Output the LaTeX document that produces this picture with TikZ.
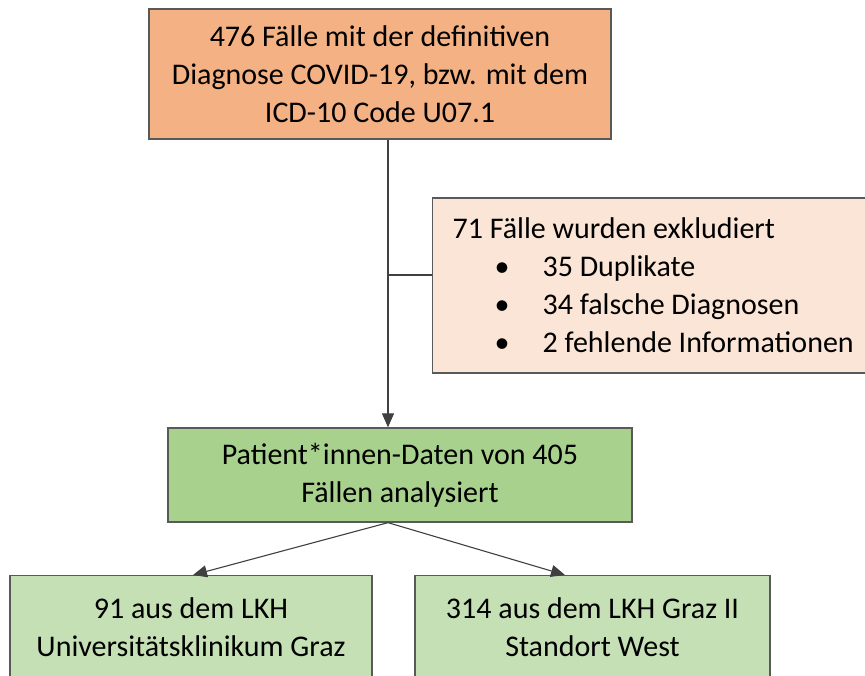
\documentclass[tikz,border=0pt]{standalone}
\usepackage{fontspec}
\setmainfont{Carlito}
\usepackage{xcolor}
\usetikzlibrary{arrows.meta,positioning,calc}
\definecolor{cLine}{HTML}{404040}
\definecolor{cEdge}{HTML}{595959}
\definecolor{cStart}{HTML}{F4B183}
\definecolor{cExcl}{HTML}{FBE5D6}
\definecolor{cMain}{HTML}{A9D18E}
\definecolor{cSite}{HTML}{C5E0B4}
\tikzset{
  box/.style={draw=cEdge, line width=1.3pt, inner sep=4pt, align=center,
              font=\fontsize{30}{38}\selectfont},
  startbox/.style={box, fill=cStart, minimum width=462pt, minimum height=130pt},
  exclbox/.style={box, fill=cExcl, align=left, minimum height=175pt, inner xsep=20pt},
  mainbox/.style={box, fill=cMain, minimum width=464pt, minimum height=94pt},
  sitebox/.style={box, fill=cSite, minimum height=104pt},
  conn/.style={cLine, line width=1.1pt},
  arr/.style={conn, -{Triangle[length=14pt, width=12pt]}}
}
\newcommand{\blt}{\hspace*{42pt}\textbullet\hspace*{33pt}}
\begin{document}
\begin{tikzpicture}[x=1pt, y=-1pt]
\useasboundingbox (0,0) rectangle (865,675);
% boxes
\node[startbox] (start) at (380,74) {476 Fälle mit der definitiven\\Diagnose COVID-19, bzw. mit dem\\ICD-10 Code U07.1};
\node[exclbox, anchor=west] (excl) at (432,285.5) {71 Fälle wurden exkludiert\\
  \blt 35 Duplikate\\
  \blt 34 falsche Diagnosen\\
  \blt 2 fehlende Informationen};
\node[mainbox] (main) at (400,475) {Patient*innen-Daten von 405\\Fällen analysiert};
\node[sitebox, minimum width=362pt, anchor=north] (lkhuni) at (191,575) {91 aus dem LKH\\Universitätsklinikum Graz};
\node[sitebox, minimum width=355pt, anchor=north] (lkhwest) at (592.5,575) {314 aus dem LKH Graz II\\Standort West};
% connectors
\coordinate (split) at (388,275);
\coordinate (uniin) at (193,0);
\coordinate (westin) at (565,0);
\draw[conn] (start.south -| split) -- (split) -- (excl.west |- split);
\draw[arr] (split) -- (main.north -| split);
\draw[arr] (main.south -| split) -- (lkhuni.north -| uniin);
\draw[arr] (main.south -| split) -- (lkhwest.north -| westin);
\end{tikzpicture}
\end{document}
